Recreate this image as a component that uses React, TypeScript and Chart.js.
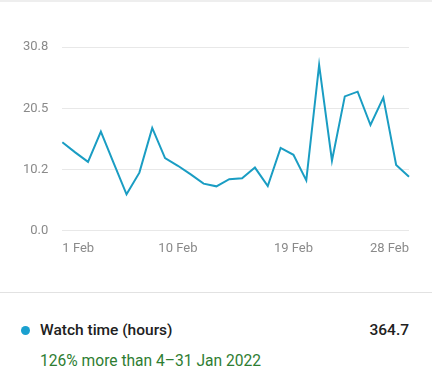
import React, { useEffect, useRef } from "react";
import { Chart, registerables } from "chart.js";

Chart.register(...registerables);

const days: string[] = Array.from({ length: 28 }, (_, i) => `${i + 1} Feb`);
const watchHours: number[] = [
  14.8, 13.1, 11.5, 16.6, 11.3, 6.05, 9.7, 17.2, 12.15, 10.85, 9.4, 7.85, 7.4, 8.6,
  8.75, 10.55, 7.45, 13.85, 12.7, 8.4, 27.8, 11.7, 22.5, 23.3, 17.7, 22.3, 11.0, 9.0,
];
const yTicks: number[] = [0, 10.2, 20.5, 30.8];
const shownLabels: string[] = ["1 Feb", "10 Feb", "19 Feb", "28 Feb"];

const seriesName = "Watch time (hours)";
const totalValue = "364.7";
const comparisonText = "126% more than 4–31 Jan 2022";

const LINE_COLOR = "#1a9dc3";
const FONT = "Roboto, 'Noto Sans', sans-serif";

export default function App() {
  const canvasRef = useRef<HTMLCanvasElement | null>(null);

  useEffect(() => {
    document.body.style.margin = "0";
    document.body.style.background = "#ffffff";
    if (!canvasRef.current) return;
    const chart = new Chart(canvasRef.current, {
      type: "line",
      data: {
        labels: days,
        datasets: [
          {
            label: seriesName,
            data: watchHours,
            borderColor: LINE_COLOR,
            borderWidth: 2,
            pointRadius: 0,
            tension: 0,
            fill: false,
          },
        ],
      },
      options: {
        animation: false,
        responsive: false,
        maintainAspectRatio: false,
        layout: { padding: { top: 47, left: 9, right: 23, bottom: 4 } },
        plugins: { legend: { display: false }, tooltip: { enabled: false } },
        scales: {
          x: {
            type: "category",
            border: { display: false },
            grid: { display: false, drawTicks: false },
            ticks: {
              autoSkip: false,
              maxRotation: 0,
              align: "inner",
              padding: 11,
              color: "#8a8a8a",
              font: { family: FONT, size: 13 },
              callback: function (_v: any, index: number) {
                const l = days[index];
                return shownLabels.includes(l) ? l : "";
              },
            },
          },
          y: {
            min: 0,
            max: 30.8,
            border: { display: false },
            grid: { color: "#e8e8e8", drawTicks: false, lineWidth: 1 },
            afterBuildTicks: (scale: any) => {
              scale.ticks = yTicks.map((v) => ({ value: v }));
            },
            ticks: {
              padding: 14,
              color: "#8a8a8a",
              font: { family: FONT, size: 13 },
              callback: (v: any) => Number(v).toFixed(1),
            },
          },
        },
      },
    });
    return () => chart.destroy();
  }, []);

  return (
    <div style={{ width: 432, height: 392, position: "relative", background: "#fff", fontFamily: FONT, overflow: "hidden" }}>
      <div style={{ position: "absolute", left: 0, top: 0, width: 432, height: 2, background: "#eeeeee" }} />
      <canvas ref={canvasRef} width={432} height={272} style={{ position: "absolute", left: 0, top: 0, width: 432, height: 272 }} />
      <div style={{ position: "absolute", left: 0, top: 292, width: 432, height: 1, background: "#e2e2e2" }} />
      <div style={{ position: "absolute", left: 21, top: 326, width: 9, height: 9, borderRadius: "50%", background: "#1aa0cf" }} />
      <div style={{ position: "absolute", left: 40, top: 321, fontSize: 15.5, fontWeight: 500, color: "#212121", lineHeight: "18px" }}>{seriesName}</div>
      <div style={{ position: "absolute", right: 23, top: 321, fontSize: 15.5, fontWeight: 500, color: "#212121", lineHeight: "18px" }}>{totalValue}</div>
      <div style={{ position: "absolute", left: 40, top: 352, fontSize: 15.6, color: "#2e7d32", lineHeight: "18px" }}>{comparisonText}</div>
    </div>
  );
}
